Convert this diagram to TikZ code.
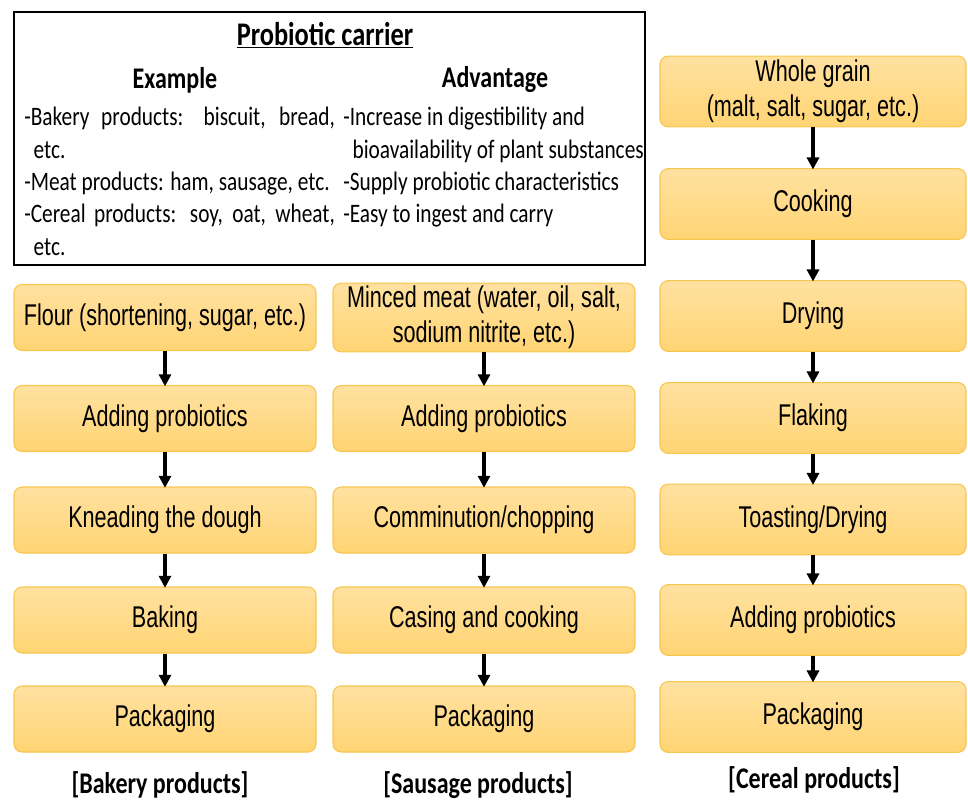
\documentclass[tikz,border=0pt]{standalone}
\usepackage{fontspec}
\usepackage{tikz}
\usetikzlibrary{arrows.meta,positioning}
\newfontfamily\boxfont[FakeStretch=0.72]{Liberation Sans}
\newfontfamily\headfont[FakeStretch=0.8]{Carlito}
\definecolor{boxtop}{RGB}{255,225,160}
\definecolor{boxbot}{RGB}{255,212,115}
\definecolor{boxedge}{RGB}{247,198,80}
\tikzset{
  stepbox/.style={draw=boxedge, line width=0.8pt, rounded corners=6pt,
    top color=boxtop, bottom color=boxbot, minimum width=226.5pt,
    minimum height=49.5pt, align=center, inner sep=2pt,
    font=\boxfont\fontsize{22.5pt}{26.5pt}\selectfont},
  widebox/.style={stepbox, minimum width=229.5pt, minimum height=53pt},
  flow/.style={-{Triangle[length=9pt,width=9pt]}, line width=2.4pt, shorten >=-1pt},
  caption/.style={font=\headfont\bfseries\fontsize{22.5pt}{24pt}\selectfont},
  listtext/.style={font=\headfont\fontsize{20pt}{24.3pt}\selectfont, align=left, anchor=north west, inner sep=0pt}
}
\begin{document}
\begin{tikzpicture}[x=0.75pt,y=-0.75pt]
\useasboundingbox (0,0) rectangle (968,803);
% carrier table
\draw[line width=2.2pt] (14,12) rectangle (645,265);
\node[caption, font=\headfont\bfseries\fontsize{24.75pt}{26pt}\selectfont] (title) at (325,35) {\underline{Probiotic carrier}};
\node[caption] (exhead) at (175,80) {Example};
\node[caption] (advhead) at (495,80) {Advantage};
\node[listtext] (exlist) at (24,107) {\makebox[233pt][s]{-Bakery products: biscuit, bread,}\\
  \hspace*{7pt}etc.\\
  -Meat products: ham, sausage, etc.\\
  \makebox[233pt][s]{-Cereal products: soy, oat, wheat,}\\
  \hspace*{7pt}etc.};
\node[listtext] (advlist) at (343,107) {-Increase in digestibility and\\
  \hspace*{7pt}bioavailability of plant substances\\
  -Supply probiotic characteristics\\
  -Easy to ingest and carry};
% bakery
\node[stepbox] (b1) at (165,317.5) {Flour (shortening, sugar, etc.)};
\node[stepbox] (b2) at (165,418.5) {Adding probiotics};
\node[stepbox] (b3) at (165,520) {Kneading the dough};
\node[stepbox] (b4) at (165,620) {Baking};
\node[stepbox] (b5) at (165,719) {Packaging};
% sausage
\node[stepbox] (s1) at (484,317.5) {Minced meat (water, oil, salt,\\sodium nitrite, etc.)};
\node[stepbox] (s2) at (484,418.5) {Adding probiotics};
\node[stepbox] (s3) at (484,520) {Comminution/chopping};
\node[stepbox] (s4) at (484,620) {Casing and cooking};
\node[stepbox] (s5) at (484,719) {Packaging};
% cereal
\node[widebox] (c1) at (813,91.5) {Whole grain\\(malt, salt, sugar, etc.)};
\node[widebox] (c2) at (813,204) {Cooking};
\node[widebox] (c3) at (813,316) {Drying};
\node[widebox] (c4) at (813,418) {Flaking};
\node[widebox] (c5) at (813,519.5) {Toasting/Drying};
\node[widebox] (c6) at (813,620) {Adding probiotics};
\node[widebox] (c7) at (813,717) {Packaging};
\foreach \a/\b in {b1/b2,b2/b3,b3/b4,b4/b5,s1/s2,s2/s3,s3/s4,s4/s5,c1/c2,c2/c3,c3/c4,c4/c5,c5/c6,c6/c7}
  \draw[flow] (\a.south) -- (\b.north);
% column labels
\node[caption] (bakery) at (160,785) {[Bakery products]};
\node[caption] (sausage) at (478,785) {[Sausage products]};
\node[caption] (cereal) at (814,780) {[Cereal products]};
\end{tikzpicture}
\end{document}
